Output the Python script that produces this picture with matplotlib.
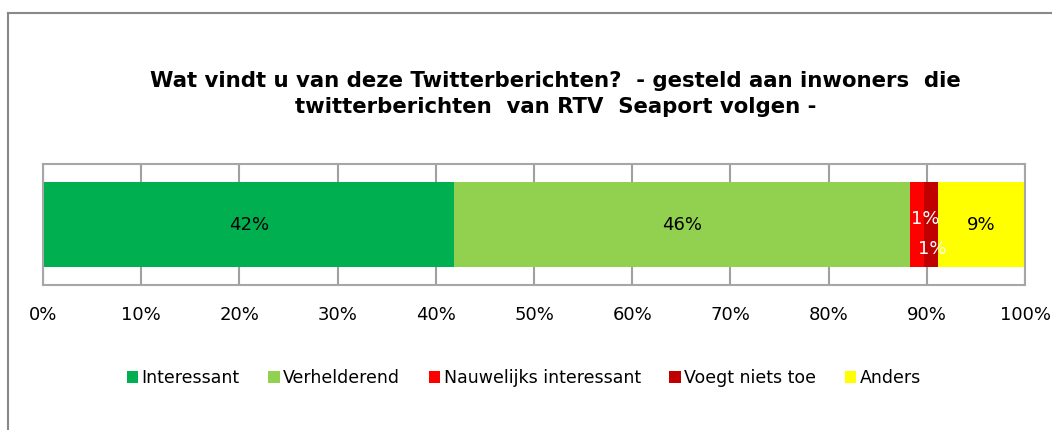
import matplotlib
matplotlib.use("Agg")
import matplotlib.pyplot as plt
from matplotlib.lines import Line2D

# data (percent of respondents)
categories = ["Interessant", "Verhelderend", "Nauwelijks interessant",
              "Voegt niets toe", "Anders"]
values = [41.9, 46.4, 1.4, 1.4, 8.9]
colors = ["#00B050", "#92D050", "#FF0000", "#C00000", "#FFFF00"]
label_colors = ["black", "black", "white", "white", "black"]
xticks = [0, 10, 20, 30, 40, 50, 60, 70, 80, 90, 100]

title = ("Wat vindt u van deze Twitterberichten?  - gesteld aan inwoners  die\n"
         "twitterberichten  van RTV  Seaport volgen -")

plt.rcParams['font.family'] = ['DejaVu Sans']

fig = plt.figure(figsize=(10.52, 4.30), dpi=100)
ax = fig.add_axes([43 / 1052, 1 - 285 / 430, 982 / 1052, 121 / 430])

# stacked horizontal bar
left = 0
for i, (cat, val, col) in enumerate(zip(categories, values, colors)):
    ax.barh(0, val, left=left, height=0.71, color=col, label=cat, zorder=2)
    txt = f"{round(val)}%"
    # the two thin segments get nudged labels like in Excel
    if i == 2:
        ax.annotate(txt, (left + val / 2, 0), xytext=(6, 4), textcoords="offset points",
                    ha="center", va="center", color=label_colors[i], fontsize=13, zorder=3)
    elif i == 3:
        ax.annotate(txt, (left + val / 2, 0), xytext=(1, -18), textcoords="offset points",
                    ha="center", va="center", color=label_colors[i], fontsize=13, zorder=3)
    else:
        ax.text(left + val / 2, 0, txt, ha="center", va="center",
                color=label_colors[i], fontsize=13, zorder=3)
    left += val

ax.set_xlim(0, 100)
ax.set_ylim(-0.5, 0.5)
ax.set_xticks(xticks)
ax.set_xticklabels([f"{t}%" for t in xticks], fontsize=13)
ax.set_yticks([])
ax.tick_params(axis="x", length=0, pad=15)
ax.grid(axis="x", color="#A0A0A0", linewidth=1.5, zorder=1)
ax.set_axisbelow(True)
for sp in ax.spines.values():
    sp.set_color("#A6A6A6")
    sp.set_linewidth(1.5)

fig.text(0.528, 0.781, title, ha="center", va="center", fontsize=15.3,
         fontweight="bold", linespacing=1.4)

fig.legend(loc="center", bbox_to_anchor=(0.498, 1 - 378 / 430), ncol=5,
           frameon=False, fontsize=12.5, handlelength=0.65, handleheight=0.65,
           handletextpad=0.2, columnspacing=1.65, borderpad=0)

# outer chart-area border (only top and left edges are visible)
fig.add_artist(Line2D([8 / 1052, 1], [1 - 13 / 430, 1 - 13 / 430],
                      transform=fig.transFigure, color="#888888", linewidth=1.5))
fig.add_artist(Line2D([8 / 1052, 8 / 1052], [0, 1 - 13 / 430],
                      transform=fig.transFigure, color="#888888", linewidth=1.5))

fig.savefig("out.png", dpi=100)
